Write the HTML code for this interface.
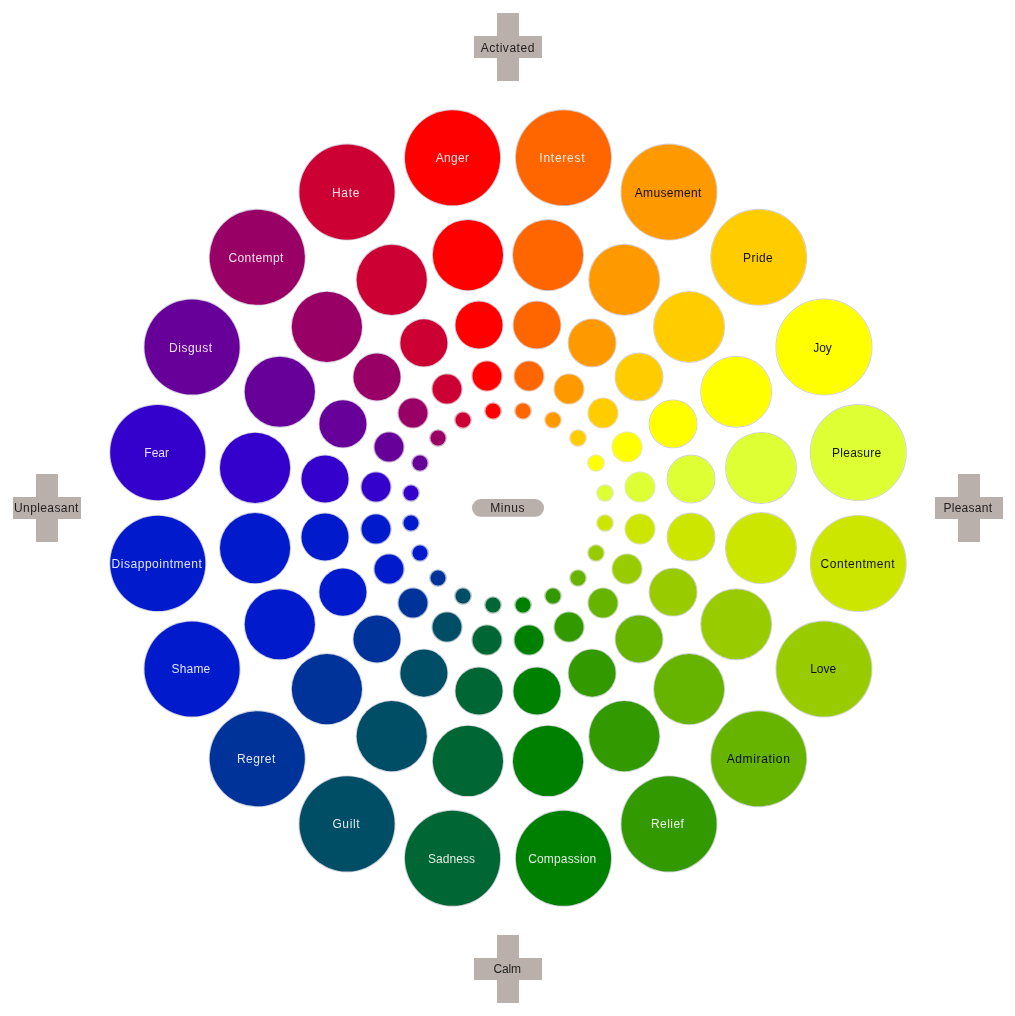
<!DOCTYPE html>
<html lang="en"><head><meta charset="utf-8"><title>Emotion Wheel</title>
<style>html,body{margin:0;padding:0;background:#fff}body{width:1015px;height:1016px;overflow:hidden}svg{display:block}text{font-family:"Liberation Sans",Arial,sans-serif;font-size:12px}#wrap{will-change:transform}</style></head><body>
<div id="wrap">
<svg width="1015" height="1016" viewBox="0 0 1015 1016">
<rect width="1015" height="1016" fill="#fff"/>
<g><rect x="497" y="13" width="22" height="68" fill="#B9AFAB"/><rect x="474" y="36" width="68" height="22" fill="#B9AFAB"/><text x="480.65" y="51.70" letter-spacing="0.549" fill="#111" fill-opacity="0.92">Activated</text></g>
<g><rect x="958" y="474" width="22" height="68" fill="#B9AFAB"/><rect x="935" y="497" width="68" height="22" fill="#B9AFAB"/><text x="943.40" y="511.90" letter-spacing="0.286" fill="#111" fill-opacity="0.92">Pleasant</text></g>
<g><rect x="497" y="935" width="22" height="68" fill="#B9AFAB"/><rect x="474" y="958" width="68" height="22" fill="#B9AFAB"/><text x="493.55" y="973.00" letter-spacing="-0.182" fill="#111" fill-opacity="0.92">Calm</text></g>
<g><rect x="36" y="474" width="22" height="68" fill="#B9AFAB"/><rect x="13" y="497" width="68" height="22" fill="#B9AFAB"/><text x="14.00" y="512.00" letter-spacing="0.404" fill="#111" fill-opacity="0.92">Unpleasant</text></g>
<g><rect x="472" y="499.1" width="72" height="17.7" rx="8.85" ry="8.85" fill="#B9AFAB"/><text x="490.20" y="512.00" letter-spacing="0.602" fill="#111" fill-opacity="0.92">Minus</text></g>
<g>
<circle cx="563.47" cy="157.77" r="47.9" fill="none" stroke="#8686a6" stroke-opacity="0.38" stroke-width="1.2"/>
<circle cx="563.47" cy="157.77" r="47.6" fill="#FF6600"/>
<circle cx="548.06" cy="255.05" r="35.4" fill="none" stroke="#8686a6" stroke-opacity="0.38" stroke-width="1.2"/>
<circle cx="548.06" cy="255.05" r="35.1" fill="#FF6600"/>
<circle cx="536.99" cy="324.98" r="23.85" fill="none" stroke="#8686a6" stroke-opacity="0.38" stroke-width="1.2"/>
<circle cx="536.99" cy="324.98" r="23.55" fill="#FF6600"/>
<circle cx="529" cy="376" r="14.775" fill="none" stroke="#CA7136" stroke-opacity="0.42" stroke-width="1.55"/>
<circle cx="529" cy="376" r="14.4" fill="#FF6600"/>
<circle cx="523" cy="411" r="7.95" fill="none" stroke="#CA7136" stroke-opacity="0.42" stroke-width="1.7"/>
<circle cx="523" cy="411" r="7.5" fill="#FF6600"/>
<text x="539.30" y="161.80" letter-spacing="0.757" fill="#fff" fill-opacity="0.88">Interest</text>
</g>
<g>
<circle cx="668.99" cy="192.05" r="47.9" fill="none" stroke="#8686a6" stroke-opacity="0.38" stroke-width="1.2"/>
<circle cx="668.99" cy="192.05" r="47.6" fill="#FF9900"/>
<circle cx="624.27" cy="279.81" r="35.4" fill="none" stroke="#8686a6" stroke-opacity="0.38" stroke-width="1.2"/>
<circle cx="624.27" cy="279.81" r="35.1" fill="#FF9900"/>
<circle cx="592.12" cy="342.90" r="23.85" fill="none" stroke="#8686a6" stroke-opacity="0.38" stroke-width="1.2"/>
<circle cx="592.12" cy="342.90" r="23.55" fill="#FF9900"/>
<circle cx="569" cy="389" r="14.775" fill="none" stroke="#CA8E36" stroke-opacity="0.42" stroke-width="1.55"/>
<circle cx="569" cy="389" r="14.4" fill="#FF9900"/>
<circle cx="553" cy="420" r="7.95" fill="none" stroke="#CA8E36" stroke-opacity="0.42" stroke-width="1.7"/>
<circle cx="553" cy="420" r="7.5" fill="#FF9900"/>
<text x="634.75" y="196.70" letter-spacing="0.319" fill="#000" fill-opacity="0.92">Amusement</text>
</g>
<g>
<circle cx="758.74" cy="257.26" r="47.9" fill="none" stroke="#8686a6" stroke-opacity="0.38" stroke-width="1.2"/>
<circle cx="758.74" cy="257.26" r="47.6" fill="#FFCC00"/>
<circle cx="689.09" cy="326.91" r="35.4" fill="none" stroke="#8686a6" stroke-opacity="0.38" stroke-width="1.2"/>
<circle cx="689.09" cy="326.91" r="35.1" fill="#FFCC00"/>
<circle cx="639.03" cy="376.97" r="23.85" fill="none" stroke="#8686a6" stroke-opacity="0.38" stroke-width="1.2"/>
<circle cx="639.03" cy="376.97" r="23.55" fill="#FFCC00"/>
<circle cx="603" cy="413" r="14.775" fill="none" stroke="#CAAC36" stroke-opacity="0.42" stroke-width="1.55"/>
<circle cx="603" cy="413" r="14.4" fill="#FFCC00"/>
<circle cx="578" cy="438" r="7.95" fill="none" stroke="#CAAC36" stroke-opacity="0.42" stroke-width="1.7"/>
<circle cx="578" cy="438" r="7.5" fill="#FFCC00"/>
<text x="743.00" y="261.70" letter-spacing="0.442" fill="#000" fill-opacity="0.92">Pride</text>
</g>
<g>
<circle cx="823.95" cy="347.01" r="47.9" fill="none" stroke="#8686a6" stroke-opacity="0.38" stroke-width="1.2"/>
<circle cx="823.95" cy="347.01" r="47.6" fill="#FFFF00"/>
<circle cx="736.19" cy="391.73" r="35.4" fill="none" stroke="#8686a6" stroke-opacity="0.38" stroke-width="1.2"/>
<circle cx="736.19" cy="391.73" r="35.1" fill="#FFFF00"/>
<circle cx="673.10" cy="423.88" r="23.85" fill="none" stroke="#8686a6" stroke-opacity="0.38" stroke-width="1.2"/>
<circle cx="673.10" cy="423.88" r="23.55" fill="#FFFF00"/>
<circle cx="627" cy="447" r="14.775" fill="none" stroke="#CACA36" stroke-opacity="0.42" stroke-width="1.55"/>
<circle cx="627" cy="447" r="14.4" fill="#FFFF00"/>
<circle cx="596" cy="463" r="7.95" fill="none" stroke="#CACA36" stroke-opacity="0.42" stroke-width="1.7"/>
<circle cx="596" cy="463" r="7.5" fill="#FFFF00"/>
<text x="813.26" y="351.70" letter-spacing="-0.077" fill="#000" fill-opacity="0.92">Joy</text>
</g>
<g>
<circle cx="858.23" cy="452.53" r="47.9" fill="none" stroke="#8686a6" stroke-opacity="0.38" stroke-width="1.2"/>
<circle cx="858.23" cy="452.53" r="47.6" fill="#DDFF33"/>
<circle cx="760.95" cy="467.94" r="35.4" fill="none" stroke="#8686a6" stroke-opacity="0.38" stroke-width="1.2"/>
<circle cx="760.95" cy="467.94" r="35.1" fill="#DDFF33"/>
<circle cx="691.02" cy="479.01" r="23.85" fill="none" stroke="#8686a6" stroke-opacity="0.38" stroke-width="1.2"/>
<circle cx="691.02" cy="479.01" r="23.55" fill="#DDFF33"/>
<circle cx="640" cy="487" r="14.775" fill="none" stroke="#B6CA53" stroke-opacity="0.42" stroke-width="1.55"/>
<circle cx="640" cy="487" r="14.4" fill="#DDFF33"/>
<circle cx="605" cy="493" r="7.95" fill="none" stroke="#B6CA53" stroke-opacity="0.42" stroke-width="1.7"/>
<circle cx="605" cy="493" r="7.5" fill="#DDFF33"/>
<text x="832.10" y="456.70" letter-spacing="0.243" fill="#000" fill-opacity="0.92">Pleasure</text>
</g>
<g>
<circle cx="858.23" cy="563.47" r="47.9" fill="none" stroke="#8686a6" stroke-opacity="0.38" stroke-width="1.2"/>
<circle cx="858.23" cy="563.47" r="47.6" fill="#CCE600"/>
<circle cx="760.95" cy="548.06" r="35.4" fill="none" stroke="#8686a6" stroke-opacity="0.38" stroke-width="1.2"/>
<circle cx="760.95" cy="548.06" r="35.1" fill="#CCE600"/>
<circle cx="691.02" cy="536.99" r="23.85" fill="none" stroke="#8686a6" stroke-opacity="0.38" stroke-width="1.2"/>
<circle cx="691.02" cy="536.99" r="23.55" fill="#CCE600"/>
<circle cx="640" cy="529" r="14.775" fill="none" stroke="#ACBB36" stroke-opacity="0.42" stroke-width="1.55"/>
<circle cx="640" cy="529" r="14.4" fill="#CCE600"/>
<circle cx="605" cy="523" r="7.95" fill="none" stroke="#ACBB36" stroke-opacity="0.42" stroke-width="1.7"/>
<circle cx="605" cy="523" r="7.5" fill="#CCE600"/>
<text x="820.55" y="567.70" letter-spacing="0.536" fill="#000" fill-opacity="0.92">Contentment</text>
</g>
<g>
<circle cx="823.95" cy="668.99" r="47.9" fill="none" stroke="#8686a6" stroke-opacity="0.38" stroke-width="1.2"/>
<circle cx="823.95" cy="668.99" r="47.6" fill="#99CC00"/>
<circle cx="736.19" cy="624.27" r="35.4" fill="none" stroke="#8686a6" stroke-opacity="0.38" stroke-width="1.2"/>
<circle cx="736.19" cy="624.27" r="35.1" fill="#99CC00"/>
<circle cx="673.10" cy="592.12" r="23.85" fill="none" stroke="#8686a6" stroke-opacity="0.38" stroke-width="1.2"/>
<circle cx="673.10" cy="592.12" r="23.55" fill="#99CC00"/>
<circle cx="627" cy="569" r="14.775" fill="none" stroke="#8EAC36" stroke-opacity="0.42" stroke-width="1.55"/>
<circle cx="627" cy="569" r="14.4" fill="#99CC00"/>
<circle cx="596" cy="553" r="7.95" fill="none" stroke="#8EAC36" stroke-opacity="0.42" stroke-width="1.7"/>
<circle cx="596" cy="553" r="7.5" fill="#99CC00"/>
<text x="810.15" y="672.80" letter-spacing="0.006" fill="#000" fill-opacity="0.92">Love</text>
</g>
<g>
<circle cx="758.74" cy="758.74" r="47.9" fill="none" stroke="#8686a6" stroke-opacity="0.38" stroke-width="1.2"/>
<circle cx="758.74" cy="758.74" r="47.6" fill="#66B300"/>
<circle cx="689.09" cy="689.09" r="35.4" fill="none" stroke="#8686a6" stroke-opacity="0.38" stroke-width="1.2"/>
<circle cx="689.09" cy="689.09" r="35.1" fill="#66B300"/>
<circle cx="639.03" cy="639.03" r="23.85" fill="none" stroke="#8686a6" stroke-opacity="0.38" stroke-width="1.2"/>
<circle cx="639.03" cy="639.03" r="23.55" fill="#66B300"/>
<circle cx="603" cy="603" r="14.775" fill="none" stroke="#719E36" stroke-opacity="0.42" stroke-width="1.55"/>
<circle cx="603" cy="603" r="14.4" fill="#66B300"/>
<circle cx="578" cy="578" r="7.95" fill="none" stroke="#719E36" stroke-opacity="0.42" stroke-width="1.7"/>
<circle cx="578" cy="578" r="7.5" fill="#66B300"/>
<text x="726.65" y="762.80" letter-spacing="0.652" fill="#000" fill-opacity="0.92">Admiration</text>
</g>
<g>
<circle cx="668.99" cy="823.95" r="47.9" fill="none" stroke="#8686a6" stroke-opacity="0.38" stroke-width="1.2"/>
<circle cx="668.99" cy="823.95" r="47.6" fill="#339900"/>
<circle cx="624.27" cy="736.19" r="35.4" fill="none" stroke="#8686a6" stroke-opacity="0.38" stroke-width="1.2"/>
<circle cx="624.27" cy="736.19" r="35.1" fill="#339900"/>
<circle cx="592.12" cy="673.10" r="23.85" fill="none" stroke="#8686a6" stroke-opacity="0.38" stroke-width="1.2"/>
<circle cx="592.12" cy="673.10" r="23.55" fill="#339900"/>
<circle cx="569" cy="627" r="14.775" fill="none" stroke="#538E36" stroke-opacity="0.42" stroke-width="1.55"/>
<circle cx="569" cy="627" r="14.4" fill="#339900"/>
<circle cx="553" cy="596" r="7.95" fill="none" stroke="#538E36" stroke-opacity="0.42" stroke-width="1.7"/>
<circle cx="553" cy="596" r="7.5" fill="#339900"/>
<text x="651.00" y="827.80" letter-spacing="0.431" fill="#fff" fill-opacity="0.88">Relief</text>
</g>
<g>
<circle cx="563.47" cy="858.23" r="47.9" fill="none" stroke="#8686a6" stroke-opacity="0.38" stroke-width="1.2"/>
<circle cx="563.47" cy="858.23" r="47.6" fill="#008000"/>
<circle cx="548.06" cy="760.95" r="35.4" fill="none" stroke="#8686a6" stroke-opacity="0.38" stroke-width="1.2"/>
<circle cx="548.06" cy="760.95" r="35.1" fill="#008000"/>
<circle cx="536.99" cy="691.02" r="23.85" fill="none" stroke="#8686a6" stroke-opacity="0.38" stroke-width="1.2"/>
<circle cx="536.99" cy="691.02" r="23.55" fill="#008000"/>
<circle cx="529" cy="640" r="14.775" fill="none" stroke="#368036" stroke-opacity="0.42" stroke-width="1.55"/>
<circle cx="529" cy="640" r="14.4" fill="#008000"/>
<circle cx="523" cy="605" r="7.95" fill="none" stroke="#368036" stroke-opacity="0.42" stroke-width="1.7"/>
<circle cx="523" cy="605" r="7.5" fill="#008000"/>
<text x="528.25" y="862.70" letter-spacing="0.139" fill="#fff" fill-opacity="0.88">Compassion</text>
</g>
<g>
<circle cx="452.53" cy="858.23" r="47.9" fill="none" stroke="#8686a6" stroke-opacity="0.38" stroke-width="1.2"/>
<circle cx="452.53" cy="858.23" r="47.6" fill="#006633"/>
<circle cx="467.94" cy="760.95" r="35.4" fill="none" stroke="#8686a6" stroke-opacity="0.38" stroke-width="1.2"/>
<circle cx="467.94" cy="760.95" r="35.1" fill="#006633"/>
<circle cx="479.01" cy="691.02" r="23.85" fill="none" stroke="#8686a6" stroke-opacity="0.38" stroke-width="1.2"/>
<circle cx="479.01" cy="691.02" r="23.55" fill="#006633"/>
<circle cx="487" cy="640" r="14.775" fill="none" stroke="#367153" stroke-opacity="0.42" stroke-width="1.55"/>
<circle cx="487" cy="640" r="14.4" fill="#006633"/>
<circle cx="493" cy="605" r="7.95" fill="none" stroke="#367153" stroke-opacity="0.42" stroke-width="1.7"/>
<circle cx="493" cy="605" r="7.5" fill="#006633"/>
<text x="427.90" y="862.70" letter-spacing="0.067" fill="#fff" fill-opacity="0.88">Sadness</text>
</g>
<g>
<circle cx="347.01" cy="823.95" r="47.9" fill="none" stroke="#8686a6" stroke-opacity="0.38" stroke-width="1.2"/>
<circle cx="347.01" cy="823.95" r="47.6" fill="#004D66"/>
<circle cx="391.73" cy="736.19" r="35.4" fill="none" stroke="#8686a6" stroke-opacity="0.38" stroke-width="1.2"/>
<circle cx="391.73" cy="736.19" r="35.1" fill="#004D66"/>
<circle cx="423.88" cy="673.10" r="23.85" fill="none" stroke="#8686a6" stroke-opacity="0.38" stroke-width="1.2"/>
<circle cx="423.88" cy="673.10" r="23.55" fill="#004D66"/>
<circle cx="447" cy="627" r="14.775" fill="none" stroke="#366271" stroke-opacity="0.42" stroke-width="1.55"/>
<circle cx="447" cy="627" r="14.4" fill="#004D66"/>
<circle cx="463" cy="596" r="7.95" fill="none" stroke="#366271" stroke-opacity="0.42" stroke-width="1.7"/>
<circle cx="463" cy="596" r="7.5" fill="#004D66"/>
<text x="332.45" y="827.80" letter-spacing="0.590" fill="#fff" fill-opacity="0.88">Guilt</text>
</g>
<g>
<circle cx="257.26" cy="758.74" r="47.9" fill="none" stroke="#8686a6" stroke-opacity="0.38" stroke-width="1.2"/>
<circle cx="257.26" cy="758.74" r="47.6" fill="#003399"/>
<circle cx="326.91" cy="689.09" r="35.4" fill="none" stroke="#8686a6" stroke-opacity="0.38" stroke-width="1.2"/>
<circle cx="326.91" cy="689.09" r="35.1" fill="#003399"/>
<circle cx="376.97" cy="639.03" r="23.85" fill="none" stroke="#8686a6" stroke-opacity="0.38" stroke-width="1.2"/>
<circle cx="376.97" cy="639.03" r="23.55" fill="#003399"/>
<circle cx="413" cy="603" r="14.775" fill="none" stroke="#36538E" stroke-opacity="0.42" stroke-width="1.55"/>
<circle cx="413" cy="603" r="14.4" fill="#003399"/>
<circle cx="438" cy="578" r="7.95" fill="none" stroke="#36538E" stroke-opacity="0.42" stroke-width="1.7"/>
<circle cx="438" cy="578" r="7.5" fill="#003399"/>
<text x="237.00" y="762.80" letter-spacing="0.440" fill="#fff" fill-opacity="0.88">Regret</text>
</g>
<g>
<circle cx="192.05" cy="668.99" r="47.9" fill="none" stroke="#8686a6" stroke-opacity="0.38" stroke-width="1.2"/>
<circle cx="192.05" cy="668.99" r="47.6" fill="#001ACC"/>
<circle cx="279.81" cy="624.27" r="35.4" fill="none" stroke="#8686a6" stroke-opacity="0.38" stroke-width="1.2"/>
<circle cx="279.81" cy="624.27" r="35.1" fill="#001ACC"/>
<circle cx="342.90" cy="592.12" r="23.85" fill="none" stroke="#8686a6" stroke-opacity="0.38" stroke-width="1.2"/>
<circle cx="342.90" cy="592.12" r="23.55" fill="#001ACC"/>
<circle cx="389" cy="569" r="14.775" fill="none" stroke="#3645AC" stroke-opacity="0.42" stroke-width="1.55"/>
<circle cx="389" cy="569" r="14.4" fill="#001ACC"/>
<circle cx="420" cy="553" r="7.95" fill="none" stroke="#3645AC" stroke-opacity="0.42" stroke-width="1.7"/>
<circle cx="420" cy="553" r="7.5" fill="#001ACC"/>
<text x="171.55" y="672.80" letter-spacing="0.180" fill="#fff" fill-opacity="0.88">Shame</text>
</g>
<g>
<circle cx="157.77" cy="563.47" r="47.9" fill="none" stroke="#8686a6" stroke-opacity="0.38" stroke-width="1.2"/>
<circle cx="157.77" cy="563.47" r="47.6" fill="#001ACC"/>
<circle cx="255.05" cy="548.06" r="35.4" fill="none" stroke="#8686a6" stroke-opacity="0.38" stroke-width="1.2"/>
<circle cx="255.05" cy="548.06" r="35.1" fill="#001ACC"/>
<circle cx="324.98" cy="536.99" r="23.85" fill="none" stroke="#8686a6" stroke-opacity="0.38" stroke-width="1.2"/>
<circle cx="324.98" cy="536.99" r="23.55" fill="#001ACC"/>
<circle cx="376" cy="529" r="14.775" fill="none" stroke="#3645AC" stroke-opacity="0.42" stroke-width="1.55"/>
<circle cx="376" cy="529" r="14.4" fill="#001ACC"/>
<circle cx="411" cy="523" r="7.95" fill="none" stroke="#3645AC" stroke-opacity="0.42" stroke-width="1.7"/>
<circle cx="411" cy="523" r="7.5" fill="#001ACC"/>
<text x="111.60" y="567.70" letter-spacing="0.523" fill="#fff" fill-opacity="0.88">Disappointment</text>
</g>
<g>
<circle cx="157.77" cy="452.53" r="47.9" fill="none" stroke="#8686a6" stroke-opacity="0.38" stroke-width="1.2"/>
<circle cx="157.77" cy="452.53" r="47.6" fill="#3300CC"/>
<circle cx="255.05" cy="467.94" r="35.4" fill="none" stroke="#8686a6" stroke-opacity="0.38" stroke-width="1.2"/>
<circle cx="255.05" cy="467.94" r="35.1" fill="#3300CC"/>
<circle cx="324.98" cy="479.01" r="23.85" fill="none" stroke="#8686a6" stroke-opacity="0.38" stroke-width="1.2"/>
<circle cx="324.98" cy="479.01" r="23.55" fill="#3300CC"/>
<circle cx="376" cy="487" r="14.775" fill="none" stroke="#5336AC" stroke-opacity="0.42" stroke-width="1.55"/>
<circle cx="376" cy="487" r="14.4" fill="#3300CC"/>
<circle cx="411" cy="493" r="7.95" fill="none" stroke="#5336AC" stroke-opacity="0.42" stroke-width="1.7"/>
<circle cx="411" cy="493" r="7.5" fill="#3300CC"/>
<text x="144.35" y="456.70" letter-spacing="-0.007" fill="#fff" fill-opacity="0.88">Fear</text>
</g>
<g>
<circle cx="192.05" cy="347.01" r="47.9" fill="none" stroke="#8686a6" stroke-opacity="0.38" stroke-width="1.2"/>
<circle cx="192.05" cy="347.01" r="47.6" fill="#660099"/>
<circle cx="279.81" cy="391.73" r="35.4" fill="none" stroke="#8686a6" stroke-opacity="0.38" stroke-width="1.2"/>
<circle cx="279.81" cy="391.73" r="35.1" fill="#660099"/>
<circle cx="342.90" cy="423.88" r="23.85" fill="none" stroke="#8686a6" stroke-opacity="0.38" stroke-width="1.2"/>
<circle cx="342.90" cy="423.88" r="23.55" fill="#660099"/>
<circle cx="389" cy="447" r="14.775" fill="none" stroke="#71368E" stroke-opacity="0.42" stroke-width="1.55"/>
<circle cx="389" cy="447" r="14.4" fill="#660099"/>
<circle cx="420" cy="463" r="7.95" fill="none" stroke="#71368E" stroke-opacity="0.42" stroke-width="1.7"/>
<circle cx="420" cy="463" r="7.5" fill="#660099"/>
<text x="169.10" y="351.70" letter-spacing="0.500" fill="#fff" fill-opacity="0.88">Disgust</text>
</g>
<g>
<circle cx="257.26" cy="257.26" r="47.9" fill="none" stroke="#8686a6" stroke-opacity="0.38" stroke-width="1.2"/>
<circle cx="257.26" cy="257.26" r="47.6" fill="#990066"/>
<circle cx="326.91" cy="326.91" r="35.4" fill="none" stroke="#8686a6" stroke-opacity="0.38" stroke-width="1.2"/>
<circle cx="326.91" cy="326.91" r="35.1" fill="#990066"/>
<circle cx="376.97" cy="376.97" r="23.85" fill="none" stroke="#8686a6" stroke-opacity="0.38" stroke-width="1.2"/>
<circle cx="376.97" cy="376.97" r="23.55" fill="#990066"/>
<circle cx="413" cy="413" r="14.775" fill="none" stroke="#8E3671" stroke-opacity="0.42" stroke-width="1.55"/>
<circle cx="413" cy="413" r="14.4" fill="#990066"/>
<circle cx="438" cy="438" r="7.95" fill="none" stroke="#8E3671" stroke-opacity="0.42" stroke-width="1.7"/>
<circle cx="438" cy="438" r="7.5" fill="#990066"/>
<text x="228.45" y="261.70" letter-spacing="0.415" fill="#fff" fill-opacity="0.88">Contempt</text>
</g>
<g>
<circle cx="347.01" cy="192.05" r="47.9" fill="none" stroke="#8686a6" stroke-opacity="0.38" stroke-width="1.2"/>
<circle cx="347.01" cy="192.05" r="47.6" fill="#CC0033"/>
<circle cx="391.73" cy="279.81" r="35.4" fill="none" stroke="#8686a6" stroke-opacity="0.38" stroke-width="1.2"/>
<circle cx="391.73" cy="279.81" r="35.1" fill="#CC0033"/>
<circle cx="423.88" cy="342.90" r="23.85" fill="none" stroke="#8686a6" stroke-opacity="0.38" stroke-width="1.2"/>
<circle cx="423.88" cy="342.90" r="23.55" fill="#CC0033"/>
<circle cx="447" cy="389" r="14.775" fill="none" stroke="#AC3653" stroke-opacity="0.42" stroke-width="1.55"/>
<circle cx="447" cy="389" r="14.4" fill="#CC0033"/>
<circle cx="463" cy="420" r="7.95" fill="none" stroke="#AC3653" stroke-opacity="0.42" stroke-width="1.7"/>
<circle cx="463" cy="420" r="7.5" fill="#CC0033"/>
<text x="332.00" y="196.70" letter-spacing="0.667" fill="#fff" fill-opacity="0.88">Hate</text>
</g>
<g>
<circle cx="452.53" cy="157.77" r="47.9" fill="none" stroke="#8686a6" stroke-opacity="0.38" stroke-width="1.2"/>
<circle cx="452.53" cy="157.77" r="47.6" fill="#FF0000"/>
<circle cx="467.94" cy="255.05" r="35.4" fill="none" stroke="#8686a6" stroke-opacity="0.38" stroke-width="1.2"/>
<circle cx="467.94" cy="255.05" r="35.1" fill="#FF0000"/>
<circle cx="479.01" cy="324.98" r="23.85" fill="none" stroke="#8686a6" stroke-opacity="0.38" stroke-width="1.2"/>
<circle cx="479.01" cy="324.98" r="23.55" fill="#FF0000"/>
<circle cx="487" cy="376" r="14.775" fill="none" stroke="#CA3636" stroke-opacity="0.42" stroke-width="1.55"/>
<circle cx="487" cy="376" r="14.4" fill="#FF0000"/>
<circle cx="493" cy="411" r="7.95" fill="none" stroke="#CA3636" stroke-opacity="0.42" stroke-width="1.7"/>
<circle cx="493" cy="411" r="7.5" fill="#FF0000"/>
<text x="435.75" y="161.80" letter-spacing="0.300" fill="#fff" fill-opacity="0.88">Anger</text>
</g>
</svg></div></body></html>
